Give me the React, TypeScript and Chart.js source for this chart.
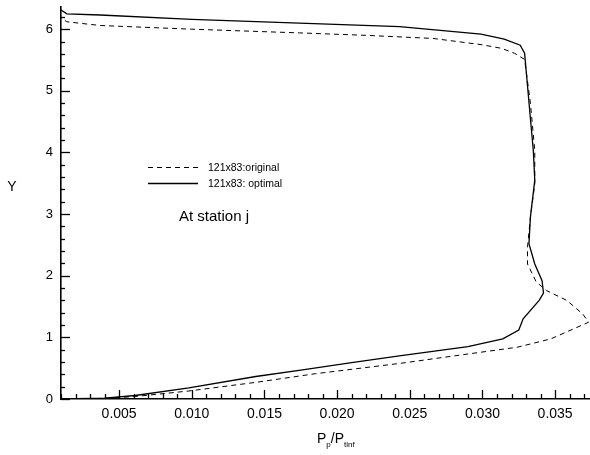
import React, { useEffect, useRef } from "react";
import { Chart, registerables } from "chart.js";

Chart.register(...registerables);

// Optimal (solid) profile: P_p/P_tinf vs Y
const optimalX = [0.0010, 0.0040, 0.0061, 0.0098, 0.0144, 0.0175, 0.0210, 0.0244, 0.0290, 0.0314, 0.0325, 0.0328, 0.0339, 0.0342, 0.0341, 0.0336, 0.0332, 0.0333, 0.0336, 0.0335, 0.0333, 0.0329, 0.0326, 0.0315, 0.0299, 0.0243, 0.0174, 0.0100, 0.0037, 0.0014, 0.0010];
const optimalY = [0.00, 0.013, 0.057, 0.18, 0.365, 0.47, 0.59, 0.705, 0.85, 0.975, 1.12, 1.30, 1.60, 1.72, 1.92, 2.19, 2.52, 2.95, 3.55, 4.03, 4.55, 5.61, 5.74, 5.84, 5.92, 6.04, 6.10, 6.16, 6.23, 6.25, 6.31];

// Original (dashed) profile
const originalX = [0.0010, 0.0040, 0.0061, 0.0098, 0.0144, 0.0185, 0.0244, 0.0290, 0.0324, 0.0347, 0.0373, 0.0369, 0.0358, 0.0344, 0.0337, 0.0331, 0.0331, 0.0333, 0.0336, 0.0336, 0.0333, 0.0329, 0.0322, 0.0313, 0.0299, 0.0266, 0.0220, 0.0174, 0.0100, 0.0037, 0.0014, 0.0010];
const originalY = [0.00, 0.01, 0.04, 0.13, 0.27, 0.41, 0.58, 0.73, 0.84, 0.975, 1.245, 1.38, 1.60, 1.76, 1.90, 2.19, 2.46, 2.95, 3.49, 4.03, 4.80, 5.51, 5.61, 5.69, 5.75, 5.85, 5.90, 5.94, 6.00, 6.06, 6.12, 6.19];

const xTickLabels = [0.005, 0.010, 0.015, 0.020, 0.025, 0.030, 0.035];
const yTickLabels = [0, 1, 2, 3, 4, 5, 6];

const seriesNames = ["121x83:original", "121x83: optimal"];
const annotationText = "At station j";

const FONT = "'Liberation Sans', Arial, sans-serif";

const decorPlugin = {
  id: "decor",
  afterDraw(chart: any) {
    const ctx = chart.ctx;
    const xs = chart.scales.x;
    const ys = chart.scales.y;
    const area = chart.chartArea;
    ctx.save();
    ctx.strokeStyle = "#000";
    ctx.lineWidth = 1.3;
    // inward x ticks, minor every 0.001
    for (let i = 1; i <= 37; i++) {
      const v = i * 0.001;
      const px = Math.round(xs.getPixelForValue(v)) + 0.5;
      if (px < area.left - 1 || px > area.right + 1) continue;
      const major = i % 5 === 0;
      ctx.beginPath();
      ctx.moveTo(px, area.bottom);
      ctx.lineTo(px, area.bottom - (major ? 9 : 5));
      ctx.stroke();
    }
    // inward y ticks, minor every 0.2
    for (let i = 0; i <= 31; i++) {
      const v = i * 0.2;
      const py = Math.round(ys.getPixelForValue(v)) + 0.5;
      if (py < area.top - 1 || py > area.bottom + 1) continue;
      const major = i % 5 === 0;
      ctx.beginPath();
      ctx.moveTo(area.left, py);
      ctx.lineTo(area.left + (major ? 9 : 4), py);
      ctx.stroke();
    }

    // Legend
    ctx.lineWidth = 1;
    ctx.setLineDash([5, 4]);
    ctx.beginPath();
    ctx.moveTo(148, 167.5);
    ctx.lineTo(198, 167.5);
    ctx.stroke();
    ctx.setLineDash([]);
    ctx.lineWidth = 1.3;
    ctx.beginPath();
    ctx.moveTo(148, 183.5);
    ctx.lineTo(198, 183.5);
    ctx.stroke();
    ctx.fillStyle = "#000";
    ctx.font = `10.5px ${FONT}`;
    ctx.textBaseline = "middle";
    ctx.textAlign = "left";
    ctx.fillText(seriesNames[0], 208, 168);
    ctx.fillText(seriesNames[1], 208, 184);

    ctx.font = `15px ${FONT}`;
    ctx.fillText(annotationText, 179, 217);

    // Y axis title
    ctx.font = `14px ${FONT}`;
    ctx.textAlign = "center";
    ctx.fillText("Y", 12, 187);

    // X axis title P_p/P_tinf
    ctx.textAlign = "left";
    ctx.textBaseline = "alphabetic";
    let x = 317;
    const base = 443;
    const big = `14px ${FONT}`;
    const small = `8px ${FONT}`;
    const parts: [string, string, number][] = [
      ["P", big, 0],
      ["p", small, 4],
      ["/P", big, 0],
      ["tinf", small, 4],
    ];
    for (const [t, f, dy] of parts) {
      ctx.font = f;
      ctx.fillText(t, x, base + dy);
      x += ctx.measureText(t).width;
    }
    ctx.restore();
  },
};

export default function App() {
  const ref = useRef<HTMLCanvasElement | null>(null);
  useEffect(() => {
    if (!ref.current) return;
    const chart = new Chart(ref.current, {
      type: "scatter",
      data: {
        datasets: [
          {
            label: seriesNames[0],
            data: originalX.map((v, i) => ({ x: v, y: originalY[i] })),
            showLine: true,
            pointRadius: 0,
            borderColor: "#000",
            borderWidth: 1,
            borderDash: [5, 4],
            tension: 0,
          },
          {
            label: seriesNames[1],
            data: optimalX.map((v, i) => ({ x: v, y: optimalY[i] })),
            showLine: true,
            pointRadius: 0,
            borderColor: "#000",
            borderWidth: 1.3,
            tension: 0,
          },
        ],
      },
      options: {
        animation: false,
        responsive: false,
        devicePixelRatio: 1,
        layout: { padding: { top: 7, right: 0, left: 0, bottom: 0 } },
        plugins: { legend: { display: false }, tooltip: { enabled: false } },
        scales: {
          x: {
            type: "linear",
            min: 0.001,
            max: 0.0374,
            afterBuildTicks: (s: any) => {
              s.ticks = xTickLabels.map((v) => ({ value: v }));
            },
            afterFit: (s: any) => {
              s.height = 56;
              s.paddingLeft = 0;
              s.paddingRight = 0;
            },
            grid: { display: false, drawTicks: false },
            border: { display: true, color: "#000", width: 1.6 },
            ticks: {
              color: "#000",
              padding: 7,
              font: { family: FONT, size: 14 },
              maxRotation: 0,
              callback: (v: any) => Number(v).toFixed(3),
            },
          },
          y: {
            type: "linear",
            min: 0,
            max: 6.36,
            afterBuildTicks: (s: any) => {
              s.ticks = yTickLabels.map((v) => ({ value: v }));
            },
            afterFit: (s: any) => {
              s.width = 61;
              s.paddingTop = 0;
              s.paddingBottom = 0;
            },
            grid: { display: false, drawTicks: false },
            border: { display: true, color: "#000", width: 1.6 },
            ticks: {
              color: "#000",
              padding: 8,
              font: { family: FONT, size: 13 },
              callback: (v: any) => String(v),
            },
          },
        },
      },
      plugins: [decorPlugin],
    });
    return () => chart.destroy();
  }, []);
  return (
    <div style={{ position: "absolute", left: 0, top: 0, width: 590, height: 455, background: "#fff" }}>
      <canvas ref={ref} width={590} height={455} style={{ width: 590, height: 455 }} />
    </div>
  );
}
